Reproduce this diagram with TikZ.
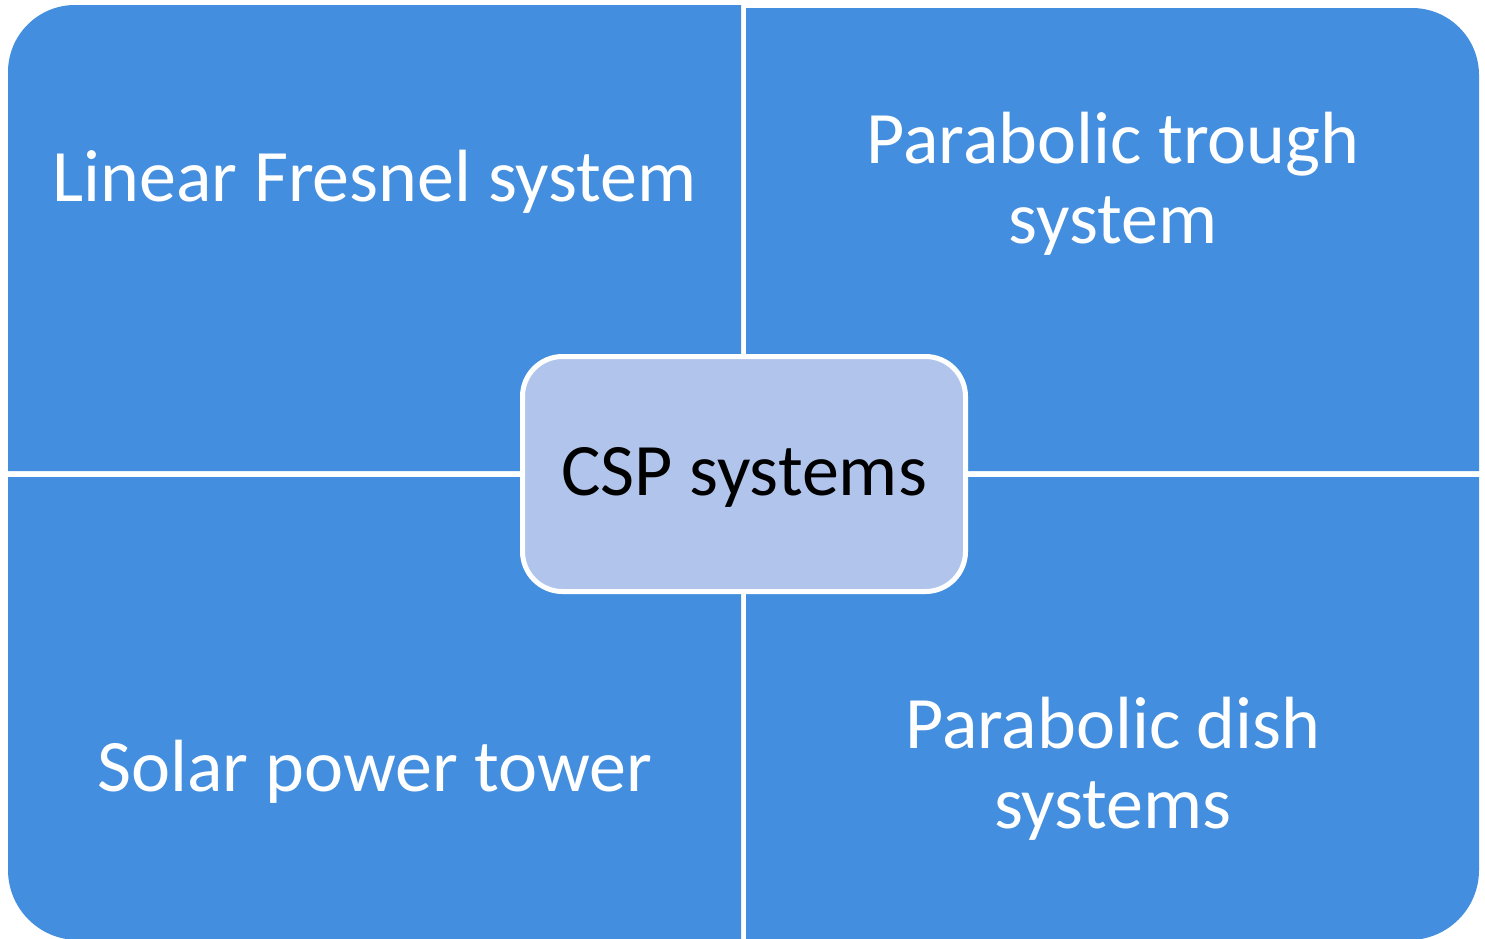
\documentclass[tikz,border=0pt]{standalone}
\usepackage{fontspec}
\setmainfont{Carlito}
\definecolor{quadblue}{RGB}{67,142,222}
\definecolor{hubblue}{RGB}{177,197,236}

\begin{document}
\begin{tikzpicture}[x=1pt, y=1pt]

\tikzstyle{quadrant}=[fill=quadblue]
\tikzstyle{label}=[text=white, align=center, inner sep=0pt, anchor=base, font=\fontsize{74}{80}\selectfont]
\tikzstyle{hub}=[fill=hubblue, draw=white, line width=5pt, rounded corners=40pt, minimum width=443pt, minimum height=235pt, text height=57pt, text depth=14pt, font=\fontsize{74}{80}\selectfont]

\useasboundingbox (0,0) rectangle (1485,-938);

\fill[quadrant] (741,-471) -- (8,-471) -- (8,-72) arc[start angle=180, end angle=90, radius=67] -- (741,-5) -- cycle;
\fill[quadrant] (746,-8) -- (1412,-8) arc[start angle=90, end angle=0, radius=67] -- (1479,-471) -- (746,-471) -- cycle;
\fill[quadrant] (8,-477) -- (741,-477) -- (741,-940) -- (78,-940) arc[start angle=270, end angle=180, radius=70] -- cycle;
\fill[quadrant] (746,-477) -- (1479,-477) -- (1479,-870) arc[start angle=0, end angle=-90, radius=70] -- (746,-940) -- cycle;

\node[label] (fresnel) at (374.5,-201) {Linear Fresnel system};
\node[label] (trough) at (1113,-243) {Parabolic trough\\system};
\node[label] (tower) at (375,-791) {Solar power tower};
\node[label] (dish) at (1113,-828) {Parabolic dish\\systems};

\node[hub] (csp) at (744,-474) {CSP systems};

\end{tikzpicture}
\end{document}
